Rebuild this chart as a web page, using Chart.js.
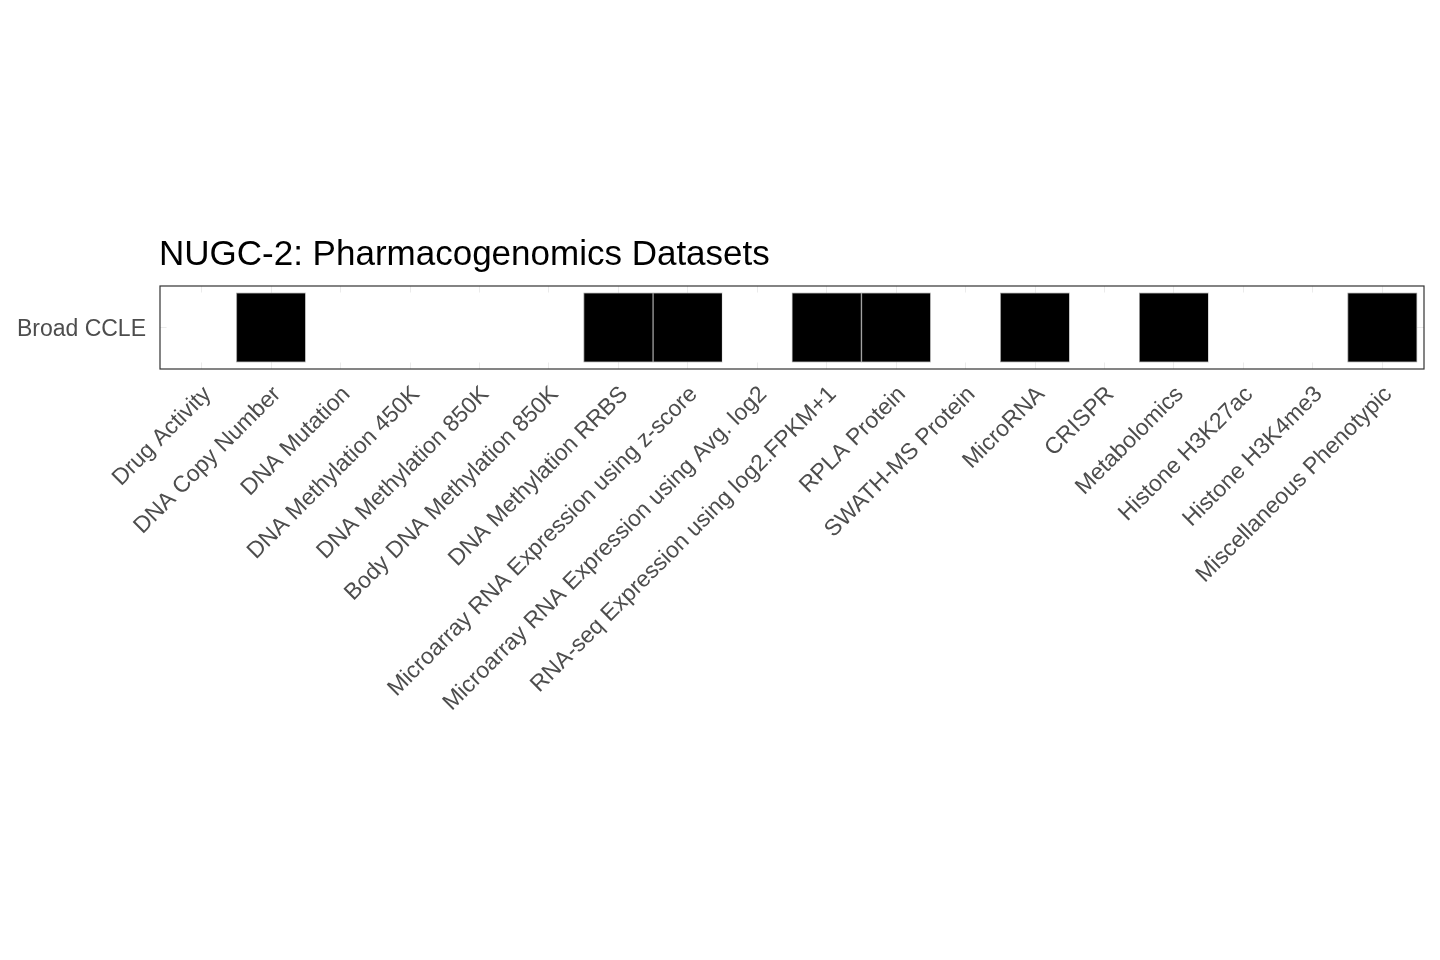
<!DOCTYPE html>
<html>
<head>
<meta charset="utf-8">
<script src="https://cdn.jsdelivr.net/npm/chart.js@4.4.1/dist/chart.umd.min.js"></script>
<style>
  html, body { margin: 0; padding: 0; background: #fff; }
  #wrap { width: 1440px; height: 960px; position: relative; }
</style>
</head>
<body>
<div id="wrap"><canvas id="Chart" width="1440" height="960"></canvas></div>
<script>
const chartTitle = 'NUGC-2: Pharmacogenomics Datasets';
const rows = ['Broad CCLE'];
const datasets = [
    'Drug Activity',
    'DNA Copy Number',
    'DNA Mutation',
    'DNA Methylation 450K',
    'DNA Methylation 850K',
    'Body DNA Methylation 850K',
    'DNA Methylation RRBS',
    'Microarray RNA Expression using z-score',
    'Microarray RNA Expression using Avg. log2',
    'RNA-seq Expression using log2.FPKM+1',
    'RPLA Protein',
    'SWATH-MS Protein',
    'MicroRNA',
    'CRISPR',
    'Metabolomics',
    'Histone H3K27ac',
    'Histone H3K4me3',
    'Miscellaneous Phenotypic'
];
// 1 = dataset available for this cell line
const available = [0, 1, 0, 0, 0, 0, 1, 1, 0, 1, 1, 0, 1, 0, 1, 0, 0, 1];

const font = "'Liberation Sans', Arial, Helvetica, sans-serif";

const tiles = available.map((v, i) => ({ x: i, y: [0.1, 1.1] }));

const panelPlugin = {
    id: 'panel',
    afterDatasetsDraw(chart) {
        const a = chart.chartArea;
        const c = chart.ctx;
        c.save();
        c.strokeStyle = '#333333';
        c.lineWidth = 1.2;
        c.strokeRect(a.left, a.top, a.right - a.left, a.bottom - a.top);
        c.fillStyle = '#000000';
        c.font = '35px ' + font;
        c.textAlign = 'left';
        c.textBaseline = 'alphabetic';
        c.fillText(chartTitle, a.left - 1, a.top - 21);
        c.restore();
    }
};

const ctx = document.getElementById('Chart').getContext('2d');
const myChart = new Chart(ctx, {
    type: 'bar',
    data: {
        datasets: [{
            label: rows[0],
            data: tiles,
            backgroundColor: available.map(v => v ? '#000000' : '#ffffff'),
            borderColor: available.map(v => v ? '#9a9a9a' : '#ffffff'),
            borderWidth: available.map(v => v ? 1 : 0),
            borderSkipped: false,
            barPercentage: 1,
            categoryPercentage: 1
        }]
    },
    options: {
        responsive: false,
        animation: false,
        layout: { padding: { top: 286, right: 16, bottom: 0, left: 0 } },
        plugins: {
            legend: { display: false },
            tooltip: { enabled: false },
            title: { display: false }
        },
        scales: {
            x: {
                type: 'linear',
                offset: false,
                min: -0.6,
                max: 17.6,
                afterBuildTicks: s => { s.ticks = datasets.map((d, i) => ({ value: i })); },
                afterFit: s => { s.height = 960 - 369; },
                grid: { color: '#ebebeb', lineWidth: 1, drawTicks: false, offset: false },
                border: { display: false },
                ticks: {
                    autoSkip: false,
                    minRotation: 45,
                    maxRotation: 45,
                    padding: 12,
                    labelOffset: 6,
                    color: '#4d4d4d',
                    font: { family: font, size: 23 },
                    callback: v => datasets[v]
                }
            },
            y: {
                type: 'linear',
                min: 0,
                max: 1.2,
                afterBuildTicks: s => { s.ticks = [{ value: 0.6 }]; },
                afterFit: s => { s.width = 160; },
                grid: { color: '#ebebeb', lineWidth: 1, drawTicks: false },
                border: { display: false },
                ticks: {
                    padding: 14,
                    labelOffset: 2,
                    color: '#4d4d4d',
                    font: { family: font, size: 23 },
                    callback: () => rows[0]
                }
            }
        }
    },
    plugins: [panelPlugin]
});
</script>
</body>
</html>
